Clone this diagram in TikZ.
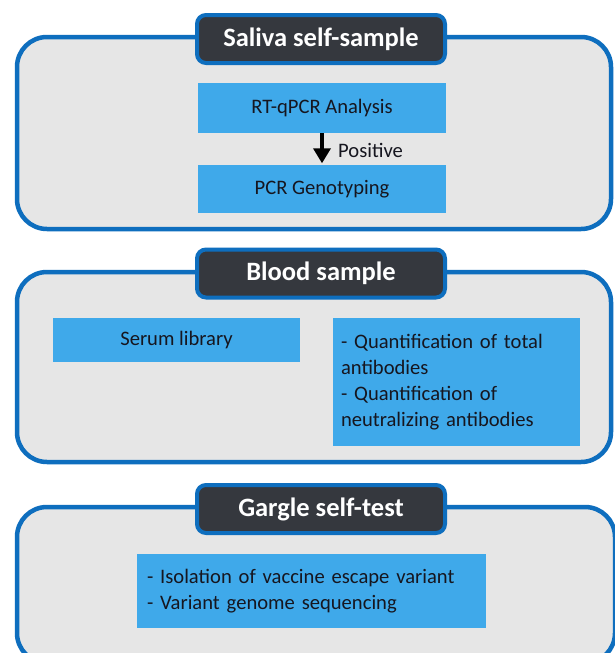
\documentclass[tikz,border=0pt]{standalone}
\usepackage{fontspec}
\setmainfont{Carlito}
\usetikzlibrary{arrows.meta}
\definecolor{panelblue}{HTML}{0E6EBE}
\definecolor{panelgray}{HTML}{E6E6E6}
\definecolor{headdark}{HTML}{35383E}
\definecolor{boxblue}{HTML}{3FA9EA}
\definecolor{txt}{HTML}{16161F}
\begin{document}
\begin{tikzpicture}[x=1pt,y=-1pt,
  panel/.style={draw=panelblue,fill=panelgray,line width=4.5pt,rounded corners=30pt},
  header/.style={draw=panelblue,fill=headdark,line width=4pt,rounded corners=9pt,
    minimum width=248pt,minimum height=48pt,inner sep=0pt,text=white,
    font=\fontsize{26.5}{30}\selectfont\bfseries},
  bluebox/.style={fill=boxblue,inner sep=0pt,text=txt,font=\fontsize{20.6}{26}\selectfont},
  listbox/.style={bluebox,align=left,inner ysep=0pt},
  flow/.style={-{Triangle[width=17pt,length=15pt]},line width=3.5pt,black,shorten >=1.5pt},
  lbl/.style={inner sep=0pt,text=txt,font=\fontsize{20.6}{26}\selectfont},
]
\useasboundingbox (0,0) rectangle (614,653);
\fill[white] (0,0) rectangle (614,653);

% Panel 1
\draw[panel] (17,37) rectangle (611,229);
\node[header] (h1) at (321,39) {Saliva self-sample};
\node[bluebox,minimum width=248pt,minimum height=50pt] (rt) at (322,108) {RT-qPCR Analysis};
\node[bluebox,minimum width=248pt,minimum height=48pt] (pcr) at (322,189) {PCR Genotyping};
\draw[flow] (rt.south) -- (pcr.north);
\node[lbl,anchor=base west] (pos) at (338,157) {Positive};

% Panel 2
\draw[panel] (17,272) rectangle (611,462);
\node[header] (h2) at (321,273.5) {Blood sample};
\node[bluebox,minimum width=247pt,minimum height=44pt] (serum) at (176.5,340) {Serum library};
\node[listbox,text width=231pt,inner xsep=8pt,minimum height=128pt] (quant) at (456.5,382)
  {- Quantification of total\\antibodies\\- Quantification of\\neutralizing antibodies};

% Panel 3
\draw[panel] (17,507) rectangle (615,663);
\node[header] (h3) at (321,509) {Gargle self-test};
\node[listbox,text width=329pt,inner xsep=10pt,minimum height=74pt] (gargle) at (311.5,591)
  {- Isolation of vaccine escape variant\\- Variant genome sequencing};
\end{tikzpicture}
\end{document}
